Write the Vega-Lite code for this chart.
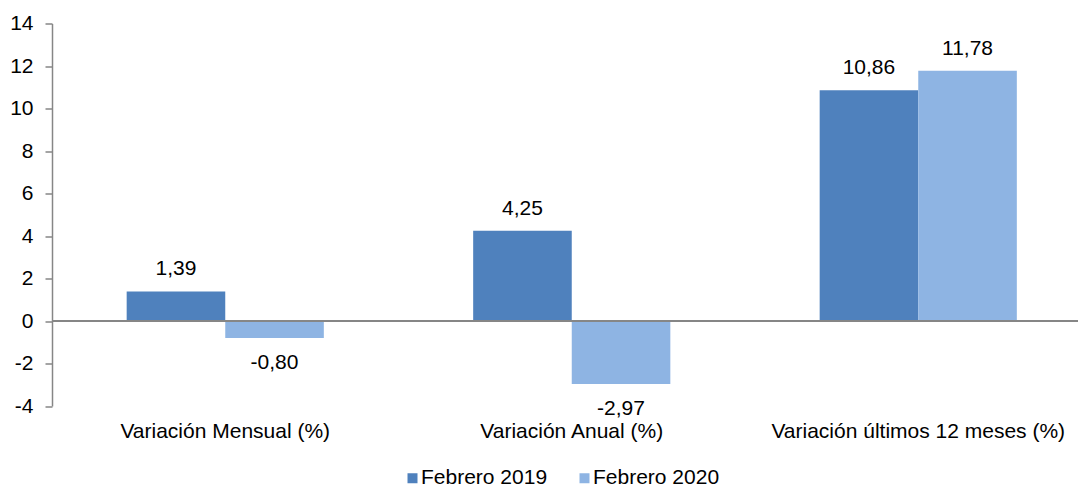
{
  "$schema": "https://vega.github.io/schema/vega-lite/v6.json",
  "autosize": {"type": "none"},
  "width": 1026,
  "height": 382.5,
  "padding": {"left": 52, "top": 23.5, "right": 0, "bottom": 82},
  "config": {
    "view": {"stroke": null},
    "font": "Liberation Sans",
    "locale": {"number": {"decimal": ",", "thousands": ".", "grouping": [3], "currency": ["", " €"], "minus": "-"}}
  },
  "data": {
    "values": [
      {"categoria": "Variación Mensual (%)", "serie": "Febrero 2019", "valor": 1.39},
      {"categoria": "Variación Mensual (%)", "serie": "Febrero 2020", "valor": -0.80},
      {"categoria": "Variación Anual (%)", "serie": "Febrero 2019", "valor": 4.25},
      {"categoria": "Variación Anual (%)", "serie": "Febrero 2020", "valor": -2.97},
      {"categoria": "Variación últimos 12 meses (%)", "serie": "Febrero 2019", "valor": 10.86},
      {"categoria": "Variación últimos 12 meses (%)", "serie": "Febrero 2020", "valor": 11.78}
    ]
  },
  "encoding": {
    "x": {
      "field": "categoria", "type": "nominal", "sort": null,
      "scale": {"range": [0, 1039.5], "paddingInner": 0.431, "paddingOuter": 0.2155},
      "axis": {"title": null, "labelAngle": 0, "domain": false, "ticks": false, "labelPadding": 14, "labelFontSize": 21, "labelLimit": 500, "labelColor": "#000000", "labelFont": "Liberation Sans"}
    },
    "xOffset": {"field": "serie", "type": "nominal", "scale": {"paddingInner": 0, "paddingOuter": 0}}
  },
  "layer": [
    {
      "mark": {"type": "bar"},
      "encoding": {
        "y": {
          "field": "valor", "type": "quantitative",
          "scale": {"domain": [-4, 14], "nice": false, "zero": false},
          "axis": {"title": null, "values": [-4, -2, 0, 2, 4, 6, 8, 10, 12, 14], "format": "d", "grid": false, "domainColor": "#868686", "domainWidth": 1.5, "tickColor": "#868686", "tickWidth": 1.5, "tickSize": 7, "labelPadding": 12, "labelFontSize": 21, "labelColor": "#000000", "labelFont": "Liberation Sans"}
        },
        "color": {
          "field": "serie", "type": "nominal",
          "scale": {"domain": ["Febrero 2019", "Febrero 2020"], "range": ["#4F81BD", "#8EB4E3"]},
          "legend": {"title": null, "orient": "none", "direction": "horizontal", "legendX": 350, "legendY": 444, "symbolType": "square", "symbolSize": 100, "symbolStrokeWidth": 0, "labelFontSize": 21, "labelColor": "#000000", "labelFont": "Liberation Sans", "labelOffset": -2, "columnPadding": 26, "labelLimit": 300}
        }
      }
    },
    {
      "mark": {"type": "rule", "color": "#868686", "strokeWidth": 2},
      "encoding": {"y": {"datum": 0, "type": "quantitative"}, "x": null, "xOffset": null}
    },
    {
      "transform": [{"filter": "datum.valor >= 0"}],
      "mark": {"type": "text", "baseline": "alphabetic", "dy": -16, "fontSize": 21, "color": "#000000", "font": "Liberation Sans"},
      "encoding": {
        "y": {"field": "valor", "type": "quantitative"},
        "text": {"field": "valor", "type": "quantitative", "format": ".2f"}
      }
    },
    {
      "transform": [{"filter": "datum.valor < 0"}],
      "mark": {"type": "text", "baseline": "alphabetic", "dy": 31, "fontSize": 21, "color": "#000000", "font": "Liberation Sans"},
      "encoding": {
        "y": {"field": "valor", "type": "quantitative"},
        "text": {"field": "valor", "type": "quantitative", "format": ".2f"}
      }
    }
  ]
}
